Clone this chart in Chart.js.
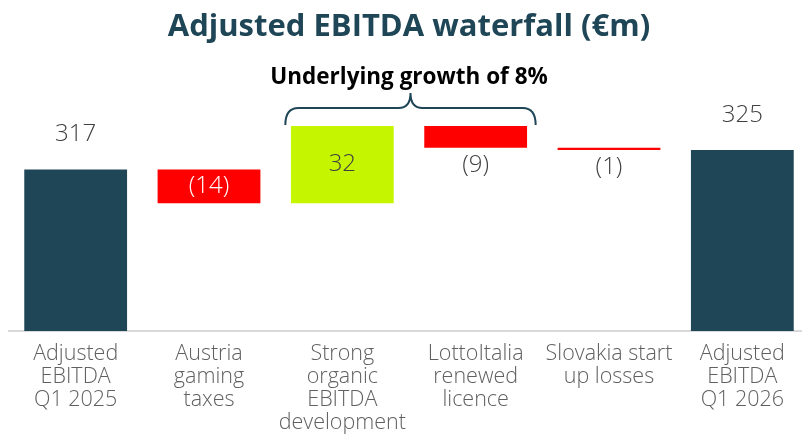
<!DOCTYPE html>
<html>
<head>
<meta charset="utf-8">
<script src="https://cdn.jsdelivr.net/npm/chart.js@4.4.1/dist/chart.umd.min.js"></script>
<style>
  html, body { margin: 0; padding: 0; background: #fff; overflow: hidden; }
  #wrap { width: 809px; height: 434px; position: relative; }
</style>
</head>
<body>
<div id="wrap"><canvas id="waterfall"></canvas></div>
<script>
// chart data
const categories = [
    ['Adjusted', 'EBITDA', 'Q1 2025'],
    ['Austria', 'gaming', 'taxes'],
    ['Strong', 'organic', 'EBITDA', 'development'],
    ['LottoItalia', 'renewed', 'licence'],
    ['Slovakia start', 'up losses'],
    ['Adjusted', 'EBITDA', 'Q1 2026']
];
const values = [317, -14, 32, -9, -1, 325];
const isTotal = [true, false, false, false, false, true];
const axisMin = 250;
const axisMax = 335;

const TEAL = '#1f4656';
const RED = '#ff0000';
const LIME = '#c6f500';
const TEXT = '#404040';
const LABEL_FONT = '"Open Sans"';

// running totals -> floating bars
const bars = [];
let running = 0;
values.forEach((v, i) => {
    if (isTotal[i]) {
        bars.push([axisMin, v]);
        running = v;
    } else {
        bars.push([running, running + v]);
        running += v;
    }
});
const barColors = values.map((v, i) => isTotal[i] ? TEAL : (v < 0 ? RED : LIME));

function fmt(v) {
    return v < 0 ? '(' + Math.abs(v) + ')' : String(v);
}

// value labels + brace over the underlying growth bars
const annotations = {
    id: 'annotations',
    afterDatasetsDraw(chart) {
        const ctx = chart.ctx;
        const meta = chart.getDatasetMeta(0);
        ctx.save();
        ctx.font = '300 24px ' + LABEL_FONT;
        ctx.textAlign = 'center';
        ctx.textBaseline = 'middle';
        meta.data.forEach((bar, i) => {
            const top = Math.min(bar.y, bar.base);
            const bottom = Math.max(bar.y, bar.base);
            const h = bottom - top;
            let y;
            if (isTotal[i]) {
                ctx.fillStyle = TEXT;
                y = top - 35;
            } else if (h > 30) {
                ctx.fillStyle = values[i] < 0 ? '#ffffff' : TEXT;
                y = (top + bottom) / 2;
            } else {
                ctx.fillStyle = TEXT;
                y = bottom + 17;
            }
            ctx.fillText(fmt(values[i]), bar.x, y);
        });

        // curly brace
        const xs = chart.scales.x;
        const x0 = xs.getPixelForValue(2) - 57;
        const x1 = xs.getPixelForValue(3) + 60;
        const xm = (x0 + x1) / 2;
        const yb = 125, yl = 108, yp = 93, r = 13;
        ctx.strokeStyle = TEAL;
        ctx.lineWidth = 2;
        ctx.beginPath();
        ctx.moveTo(x0, yb);
        ctx.quadraticCurveTo(x0, yl, x0 + r, yl);
        ctx.lineTo(xm - 12, yl);
        ctx.quadraticCurveTo(xm, yl, xm, yp);
        ctx.quadraticCurveTo(xm, yl, xm + 12, yl);
        ctx.lineTo(x1 - r, yl);
        ctx.quadraticCurveTo(x1, yl, x1, yb);
        ctx.stroke();
        ctx.restore();
    }
};

new Chart(document.getElementById('waterfall'), {
    type: 'bar',
    data: {
        labels: categories,
        datasets: [{
            data: bars,
            backgroundColor: barColors,
            borderWidth: 0,
            barPercentage: 0.771,
            categoryPercentage: 1
        }]
    },
    options: {
        responsive: true,
        maintainAspectRatio: false,
        animation: false,
        layout: { padding: { left: 9, right: 0, top: 0, bottom: 0 } },
        plugins: {
            legend: { display: false },
            tooltip: { enabled: false },
            title: {
                display: true,
                text: 'Adjusted EBITDA waterfall (€m)',
                color: TEAL,
                font: { family: 'Open Sans', size: 31, weight: 'bold', lineHeight: 1.2 },
                padding: { top: 9, bottom: 0 }
            },
            subtitle: {
                display: true,
                text: 'Underlying growth of 8%',
                color: '#000000',
                font: { family: 'Open Sans', size: 22.5, weight: 'bold', lineHeight: 1.2 },
                padding: { top: 18, bottom: 34.8 }
            }
        },
        scales: {
            x: {
                grid: { display: false, drawTicks: false },
                border: { display: true, color: '#d9d9d9', width: 2 },
                ticks: {
                    color: '#606060',
                    font: { family: 'Open Sans', size: 21.5, weight: 300, lineHeight: 1.07 },
                    padding: 11,
                    maxRotation: 0,
                    autoSkip: false
                },
                afterFit(scale) { scale.height = 103; }
            },
            y: {
                display: false,
                min: axisMin,
                max: axisMax
            }
        }
    },
    plugins: [annotations]
});
</script>
</body>
</html>
